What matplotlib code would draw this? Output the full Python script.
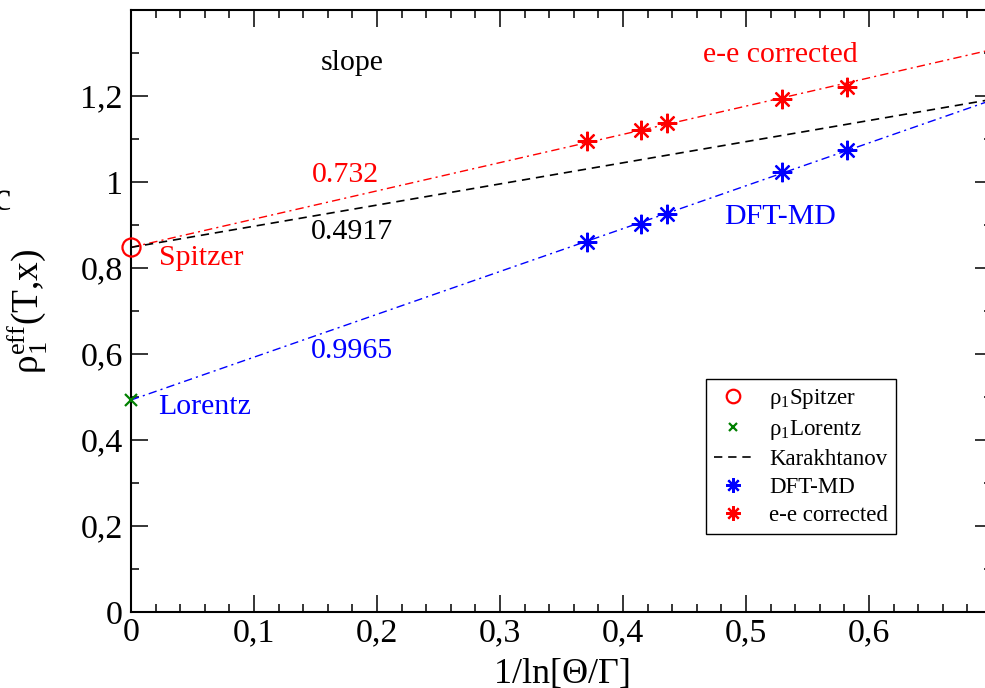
import numpy as np
import matplotlib
matplotlib.use('Agg')
from matplotlib import pyplot as plt
from matplotlib.ticker import MultipleLocator, FuncFormatter

plt.rcParams['font.family'] = ['Liberation Serif', 'DejaVu Serif']
plt.rcParams['mathtext.fontset'] = 'custom'
plt.rcParams['mathtext.rm'] = 'Liberation Serif'
plt.rcParams['mathtext.it'] = 'Liberation Serif:italic'

# data
dft_x = [0.371, 0.415, 0.436, 0.529, 0.582]
dft_y = [0.860, 0.902, 0.926, 1.023, 1.074]
ee_x = [0.371, 0.415, 0.436, 0.529, 0.582]
ee_y = [1.095, 1.121, 1.137, 1.193, 1.222]
spitzer_y = 0.848
lorentz_y = 0.493
# fit lines: intercept, slope
ee_fit = [0.848, 0.657]
karakhtanov = [0.848, 0.4917]
dft_fit = [0.493, 0.9965]

fig = plt.figure(figsize=(9.85, 6.88), dpi=100)
ax = fig.add_axes([131 / 985, 76 / 688, 861 / 985, 602 / 688])
ax.set_xlim(0, 0.7)
ax.set_ylim(0, 1.4)

xs = np.array(ax.get_xlim())
dashdot = (6, 3, 1.5, 3)
ax.plot(xs, ee_fit[0] + ee_fit[1] * xs, color='red', lw=1, dashes=dashdot)
ax.plot(xs, dft_fit[0] + dft_fit[1] * xs, color='blue', lw=1, dashes=dashdot)

ax.plot([0], [spitzer_y], 'o', mfc='none', mec='red', ms=13, mew=1.6,
        label=r'$\mathrm{\rho_1}$Spitzer', clip_on=False, zorder=5)
ax.plot([0], [lorentz_y], 'x', color='green', ms=8, mew=1.6,
        label=r'$\mathrm{\rho_1}$Lorentz', clip_on=False, zorder=5)
ax.plot(xs, karakhtanov[0] + karakhtanov[1] * xs, color='black', lw=1.2,
        dashes=(5, 3.5), label='Karakhtanov')
star = (8, 2, 0)
ax.plot(dft_x, dft_y, ls='none', marker=star, color='blue', ms=14, mew=1.6,
        label='DFT-MD')
ax.plot(ee_x, ee_y, ls='none', marker=star, color='red', ms=14, mew=1.6,
        label='e-e corrected')

fs = 21.5
ax.text(0.180, 1.277, 'slope', fontsize=fs, ha='center', va='center')
ax.text(0.528, 1.295, 'e-e corrected', fontsize=fs, ha='center', va='center', color='red')
ax.text(0.174, 1.016, '0.732', fontsize=fs, ha='center', va='center', color='red')
ax.text(0.180, 0.884, '0.4917', fontsize=fs, ha='center', va='center')
ax.text(0.023, 0.823, 'Spitzer', fontsize=fs, ha='left', va='center', color='red')
ax.text(0.180, 0.607, '0.9965', fontsize=fs, ha='center', va='center', color='blue')
ax.text(0.022, 0.477, 'Lorentz', fontsize=fs, ha='left', va='center', color='blue')
ax.text(0.528, 0.919, 'DFT-MD', fontsize=fs, ha='center', va='center', color='blue')

fig.text(11 / 985, 1 - 201 / 688, 'c', fontsize=28, ha='right', va='center')


def comma(v, pos):
    if v > 0.69 and v < 0.71 or v > 1.39:
        return ''
    if abs(v - round(v)) < 1e-9:
        return '%d' % round(v)
    return ('%.1f' % v).replace('.', ',')


ax.xaxis.set_major_locator(MultipleLocator(0.1))
ax.xaxis.set_minor_locator(MultipleLocator(0.02))
ax.yaxis.set_major_locator(MultipleLocator(0.2))
ax.yaxis.set_minor_locator(MultipleLocator(0.1))
ax.xaxis.set_major_formatter(FuncFormatter(comma))
ax.yaxis.set_major_formatter(FuncFormatter(comma))
ax.tick_params(which='both', direction='in', top=True, right=True, width=1.1,
               labelsize=24.5)
ax.tick_params(which='major', length=12)
ax.tick_params(which='minor', length=6)
ax.tick_params(axis='x', pad=4)
ax.tick_params(axis='y', pad=6)
for s in ax.spines.values():
    s.set_linewidth(1.5)

ax.set_xlabel(r'1/ln[$\mathrm{\Theta}$/$\mathrm{\Gamma}$]', fontsize=26, labelpad=0)
ax.xaxis.set_label_coords(0.5, -0.074)
ax.set_ylabel(r'$\mathrm{\rho_1^{eff}}$(T,x)', fontsize=27)
ax.yaxis.set_label_coords(-0.094, 0.5)

leg = ax.legend(loc='upper left', bbox_to_anchor=(0.668, 0.387), fontsize=16.5,
                frameon=True, fancybox=False, framealpha=1, edgecolor='black',
                handlelength=1.6, handletextpad=0.8, labelspacing=0.3,
                borderpad=0.35, borderaxespad=0, markerscale=0.75)
leg.get_frame().set_linewidth(1)

fig.savefig('out.png', dpi=100)
